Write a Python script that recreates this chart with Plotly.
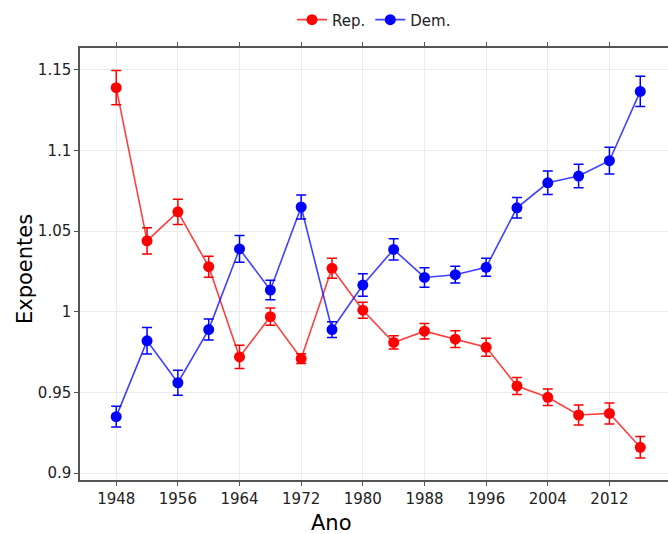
import plotly.graph_objects as go

years = [1948, 1952, 1956, 1960, 1964, 1968, 1972, 1976, 1980,
         1984, 1988, 1992, 1996, 2000, 2004, 2008, 2012, 2016]

rep = [1.139, 1.044, 1.062, 1.028, 0.972, 0.997, 0.971, 1.027, 1.001,
       0.981, 0.988, 0.983, 0.978, 0.954, 0.947, 0.936, 0.937, 0.916]
rep_err = [0.0106, 0.0081, 0.0078, 0.0065, 0.0072, 0.0054, 0.003, 0.0062, 0.005,
           0.0041, 0.0048, 0.0052, 0.0056, 0.0053, 0.0051, 0.0062, 0.0065, 0.0067]

dem = [0.935, 0.982, 0.956, 0.989, 1.039, 1.0135, 1.065, 0.989, 1.0166,
       1.0387, 1.0213, 1.023, 1.0276, 1.0645, 1.080, 1.0842, 1.0937, 1.1367]
dem_err = [0.0064, 0.0082, 0.0078, 0.0065, 0.0083, 0.006, 0.0074, 0.0049, 0.007,
           0.0066, 0.006, 0.0052, 0.0056, 0.0064, 0.0073, 0.0073, 0.0083, 0.0094]

x_ticks = list(range(1948, 2016, 8))
y_ticks = [0.9, 0.95, 1.0, 1.05, 1.1, 1.15]
y_tick_text = ["0.9", "0.95", "1", "1.05", "1.1", "1.15"]

FONT = "DejaVu Sans, Verdana, sans-serif"

fig = go.Figure()
for name, vals, errs, col, lcol in [
    ("Rep.", rep, rep_err, "#ff0000", "rgba(255,0,0,0.75)"),
    ("Dem.", dem, dem_err, "#0000ff", "rgba(0,0,255,0.75)"),
]:
    fig.add_trace(go.Scatter(
        x=years, y=vals, name=name, mode="lines+markers",
        line=dict(color=lcol, width=1.6),
        marker=dict(color=col, size=11),
        error_y=dict(type="data", array=errs, visible=True,
                     color=col, thickness=1.5, width=5),
    ))

axis_common = dict(
    showline=True, linecolor="#555", linewidth=1.5,
    ticks="outside", ticklen=4, tickcolor="#555", tickwidth=1.2,
    showgrid=True, gridcolor="#ececec", gridwidth=1.3,
    zeroline=False,
    tickfont=dict(family=FONT, size=15, color="#222"),
)

fig.update_layout(
    width=668, height=534,
    margin=dict(l=80, r=0, t=48, b=54),
    paper_bgcolor="white", plot_bgcolor="white",
    showlegend=True,
    legend=dict(orientation="h", x=0.5, xanchor="center", y=1.065, yanchor="middle",
                bgcolor="rgba(0,0,0,0)",
                font=dict(family=FONT, size=15, color="#222"),
                itemwidth=30, tracegroupgap=0),
    xaxis=dict(**axis_common, mirror="ticks", range=[1943.3, 2019.6],
               tickvals=x_ticks),
    yaxis=dict(**axis_common, mirror=False, range=[0.8957, 1.1636],
               tickvals=y_ticks, ticktext=y_tick_text),
    annotations=[
        dict(text="Ano", xref="paper", yref="paper", x=(331 - 80) / 588,
             y=-(523 - 480) / 432,
             xanchor="center", yanchor="middle", showarrow=False,
             font=dict(family=FONT, size=21, color="#000")),
        dict(text="Expoentes", xref="paper", yref="paper", x=(25 - 80) / 588,
             y=(480 - 269) / 432,
             xanchor="center", yanchor="middle", textangle=-90, showarrow=False,
             font=dict(family=FONT, size=21, color="#000")),
    ],
)

fig.write_html("out.html")
